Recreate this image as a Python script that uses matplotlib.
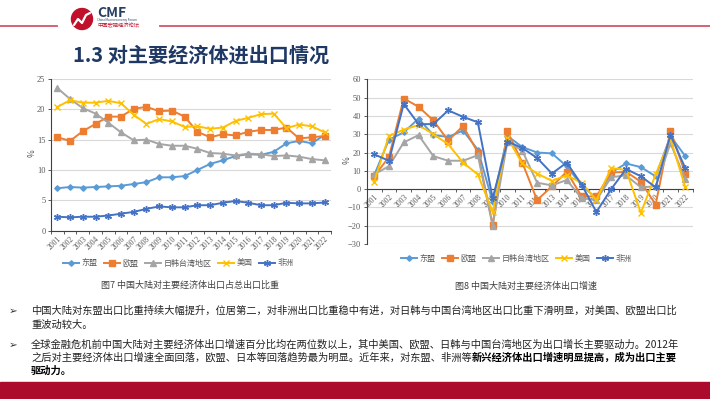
import matplotlib.pyplot as plt
import matplotlib.patches as mpatches
import numpy as np

plt.rcParams['font.family'] = ['Noto Sans CJK SC', 'DejaVu Sans']

# ---- 数据 ----
years = [str(y) for y in range(2001, 2023)]
series_names = ['东盟', '欧盟', '日韩台湾地区', '美国', '非洲']

# 图7 中国大陆对主要经济体出口占总出口比重 (%)
share_asean = [7.0, 7.2, 7.1, 7.2, 7.3, 7.4, 7.7, 8.0, 8.8, 8.8, 9.0, 10.0,
               11.0, 11.6, 12.3, 12.6, 12.5, 13.0, 14.4, 14.8, 14.4, 15.8]
share_eu = [15.4, 14.8, 16.4, 17.6, 18.8, 18.8, 20.1, 20.4, 19.7, 19.8, 18.8, 16.3,
            15.4, 15.9, 15.7, 16.3, 16.6, 16.6, 17.0, 15.2, 15.4, 15.6]
share_jkt = [23.5, 21.7, 20.2, 19.3, 17.8, 16.2, 14.9, 15.0, 14.3, 14.0, 14.0, 13.5,
             12.8, 12.7, 12.4, 12.7, 12.6, 12.3, 12.4, 12.2, 11.8, 11.6]
share_usa = [20.4, 21.5, 21.1, 21.1, 21.4, 21.0, 19.1, 17.6, 18.4, 18.0, 17.1, 17.2,
             16.8, 17.0, 18.1, 18.6, 19.2, 19.3, 16.9, 17.5, 17.2, 16.2]
share_africa = [2.3, 2.2, 2.3, 2.3, 2.5, 2.8, 3.1, 3.6, 4.0, 3.85, 3.85, 4.2,
                4.2, 4.6, 4.9, 4.6, 4.2, 4.2, 4.6, 4.5, 4.5, 4.65]

# 图8 中国大陆对主要经济体出口增速 (%)
growth_asean = [7.5, 27, 31, 38.5, 29.5, 28.5, 32, 21.5, -7, 29, 23, 20,
                19.5, 12.5, 2, -5, 9, 14, 12, 7, 29, 18]
growth_eu = [7, 17.5, 49.5, 45, 37.5, 26.5, 34.5, 20, -19.5, 31.5, 14.5, -6,
             1.5, 9.5, -4, -4, 9, 9.5, 4, -8.5, 32, 8.5]
growth_jkt = [8, 12.5, 25.5, 29.5, 18, 15.5, 15.5, 18.5, -20, 26, 21, 3.5,
              2, 5, -5, -6, 6.5, 7.5, 1, 1.5, 25, 5.5]
growth_usa = [4, 29, 32.5, 35, 30, 24.5, 14.5, 8, -12.5, 28, 14, 8.5,
              4.5, 7.5, 3.5, -6, 11.5, 10.5, -13, 8, 27.5, 1]
growth_africa = [19, 15.5, 46.5, 35.5, 35.5, 43, 39.5, 36.5, -5, 26, 22.5, 17,
                 8.5, 14.5, 2.5, -12.5, 0, 11, 7, 1, 29.5, 11.5]

share_data = [share_asean, share_eu, share_jkt, share_usa, share_africa]
growth_data = [growth_asean, growth_eu, growth_jkt, growth_usa, growth_africa]

colors = ['#5B9BD5', '#ED7D31', '#A5A5A5', '#FFC000', '#4472C4']
markers = ['D', 's', '^', 'x', (6, 2, 0)]
msizes = [2.8, 4.5, 4, 4.5, 5]

TICK_GREY = '#595959'


def draw_chart(ax, data, ylim, yticks, zero_axis=False):
    # 先移动横轴位置，否则会重置刻度设置
    if zero_axis:
        ax.spines['bottom'].set_position(('data', 0))
    x = np.arange(len(years))
    for vals, name, c, m, ms in zip(data, series_names, colors, markers, msizes):
        ax.plot(x, vals, color=c, lw=1.4, marker=m, ms=ms, mec=c, mfc=c,
                mew=1.0, label=name, clip_on=False, zorder=3)
    ax.set_xlim(-0.5, len(years) - 0.5)
    ax.set_ylim(*ylim)
    ax.set_yticks(yticks)
    ax.set_xticks(x)
    ax.set_xticklabels(years, rotation=45, ha='right', rotation_mode='anchor',
                       fontsize=5.5, family='Liberation Serif', color=TICK_GREY)
    ax.set_xticks(np.arange(-0.5, len(years), 1), minor=True)
    ax.tick_params(axis='x', which='major', length=0, pad=3)
    ax.tick_params(axis='x', which='minor', length=2, width=0.6, color='#404040')
    ax.tick_params(axis='y', length=2, width=0.6, color='#404040', pad=2)
    for lbl in ax.get_yticklabels():
        lbl.set_fontsize(6)
        lbl.set_family('Liberation Serif')
        lbl.set_color(TICK_GREY)
    ax.yaxis.grid(True, color='#D9D9D9', lw=0.8)
    ax.set_axisbelow(True)
    ax.spines['top'].set_visible(False)
    ax.spines['right'].set_visible(False)
    ax.spines['left'].set_color('#404040')
    ax.spines['left'].set_linewidth(0.8)
    ax.spines['bottom'].set_color('#404040')
    ax.spines['bottom'].set_linewidth(0.8)
    ax.set_facecolor('none')


W, H = 710, 399
fig = plt.figure(figsize=(W / 100, H / 100), dpi=100)

# 背景层（像素坐标）
bg = fig.add_axes([0, 0, 1, 1], zorder=-1)
bg.set_xlim(0, W)
bg.set_ylim(H, 0)
bg.axis('off')

# 顶部红线与标志
bg.plot([0, 57], [26, 26], color='#D0566A', lw=1.3)
bg.plot([160, W], [26, 26], color='#D0566A', lw=1.3)
bg.add_patch(mpatches.Circle((82, 19), 10.5, color='#C0102A'))
bg.plot([74, 78, 82, 86, 90], [25, 19, 23, 15, 13], color='white', lw=1.6,
        solid_capstyle='round')
bg.text(97, 13, 'CMF', fontsize=10, weight='bold', color='#243F60',
        va='center', ha='left')
bg.text(97, 20.5, 'China Macroeconomy Forum', fontsize=2.2, color='#243F60',
        va='center', ha='left')
bg.text(97, 25.5, '中国宏观经济论坛', fontsize=3.8, color='#C0102A',
        va='center', ha='left')

# 标题
bg.text(73, 55, '1.3 对主要经济体进出口情况', fontsize=14.5, weight='bold',
        color='#1F3864', va='center', ha='left')

# 左图
ax1 = fig.add_axes([51 / W, 1 - 230.7 / H, 280 / W, 151.7 / H])
draw_chart(ax1, share_data, (0, 25), [0, 5, 10, 15, 20, 25])
bg.text(32, 153, '%', fontsize=6, color=TICK_GREY, rotation=90,
        va='center', ha='center')

# 右图
ax2 = fig.add_axes([366.7 / W, 1 - 244 / H, 326 / W, 164.7 / H])
draw_chart(ax2, growth_data, (-30, 60), list(range(-30, 61, 10)), zero_axis=True)
bg.text(347, 160, '%', fontsize=6, color=TICK_GREY, rotation=90,
        va='center', ha='center')

# 图例
for ax, cx, cy in [(ax1, 178, 263), (ax2, 516, 258)]:
    h, l = ax.get_legend_handles_labels()
    leg = fig.legend(h, l, loc='center', bbox_to_anchor=(cx / W, 1 - cy / H),
                     ncol=5, frameon=False, fontsize=5.8, handlelength=2.0,
                     handletextpad=0.3, columnspacing=0.8, borderpad=0)
    for t in leg.get_texts():
        t.set_color(TICK_GREY)

# 图注
bg.text(190, 285, '图7 中国大陆对主要经济体出口占总出口比重', fontsize=6.5,
        color='#404040', va='center', ha='center')
bg.text(526, 286, '图8 中国大陆对主要经济体出口增速', fontsize=6.5,
        color='#404040', va='center', ha='center')

# 正文要点
TXT = '#222222'
FS = 7.4
bg.text(9, 311, '➢', fontsize=7.5, color='#333333', va='center', ha='left',
        family='DejaVu Sans')
bg.text(31, 311, '中国大陆对东盟出口比重持续大幅提升，位居第二，对非洲出口比重稳中有进，'
        '对日韩与中国台湾地区出口比重下滑明显，对美国、欧盟出口比',
        fontsize=FS, color=TXT, va='center', ha='left')
bg.text(31, 325, '重波动较大。', fontsize=FS, color=TXT, va='center', ha='left')

bg.text(9, 345, '➢', fontsize=7.5, color='#333333', va='center', ha='left',
        family='DejaVu Sans')
bg.text(31, 345, '全球金融危机前中国大陆对主要经济体出口增速百分比均在两位数以上，'
        '其中美国、欧盟、日韩与中国台湾地区为出口增长主要驱动力。2012年',
        fontsize=FS, color=TXT, va='center', ha='left')
t_norm = bg.text(31, 358, '之后对主要经济体出口增速全面回落，欧盟、日本等回落趋势最为明显。'
                 '近年来，对东盟、非洲等', fontsize=FS, color=TXT, va='center', ha='left')
fig.canvas.draw()
bb = t_norm.get_window_extent(renderer=fig.canvas.get_renderer())
x_end = bg.transData.inverted().transform((bb.x1, bb.y0))[0]
bg.text(x_end, 358, '新兴经济体出口增速明显提高，成为出口主要', fontsize=FS,
        weight='bold', color='#000000', va='center', ha='left')
bg.text(31, 371, '驱动力。', fontsize=FS, weight='bold', color='#000000',
        va='center', ha='left')

# 底部红条
bg.add_patch(mpatches.Rectangle((0, 382), W, 17, color='#AD0B2B'))

fig.savefig('out.png', dpi=100)
